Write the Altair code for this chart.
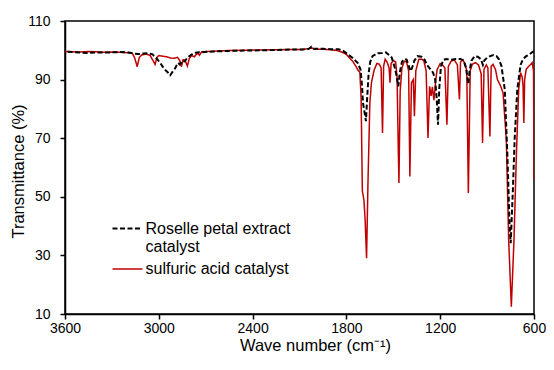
import altair as alt
import pandas as pd

series_names = ["Roselle petal extract catalyst", "sulfuric acid catalyst"]

roselle_wn = [3600, 3550, 3500, 3450, 3400, 3350, 3300, 3250, 3200, 3160, 3130, 3100, 3070, 3040,
              3010, 2990, 2965, 2945, 2927, 2910, 2900, 2885, 2876, 2866, 2850, 2835, 2815, 2795,
              2770, 2740, 2650, 2550, 2450, 2350, 2250, 2150, 2080, 2040, 2024, 2010, 1950, 1900,
              1850, 1820, 1790, 1760, 1728, 1710, 1700, 1694, 1686, 1675, 1668, 1658, 1648, 1633,
              1600, 1570, 1548, 1530, 1510, 1490, 1478, 1468, 1458, 1445, 1432, 1415, 1400, 1390,
              1380, 1365, 1345, 1320, 1300, 1285, 1270, 1258, 1245, 1232, 1222, 1214, 1206, 1195,
              1180, 1160, 1130, 1100, 1070, 1050, 1035, 1027, 1020, 1012, 1000, 980, 960, 940, 927,
              918, 900, 880, 860, 840, 825, 808, 787, 770, 756, 749, 735, 724, 707, 686, 670, 650,
              629, 610, 600]
roselle_t = [99.5, 99.4, 99.2, 99.1, 99.3, 99.2, 99.3, 99.4, 99.3, 98.9, 98.7, 98.9, 99.0, 98.6,
             97.0, 95.6, 93.6, 92.6, 91.5, 92.8, 93.4, 95.0, 95.7, 95.2, 96.4, 96.2, 97.6, 98.4,
             99.2, 99.3, 99.6, 99.8, 99.9, 100.0, 100.1, 100.3, 100.3, 100.5, 101.2, 100.5, 100.5, 100.4,
             100.4, 99.8, 98.6, 97.4, 95.7, 93.5, 88.0, 82.0, 79.5, 75.8, 83.0, 92.0, 96.0, 98.0,
             99.0, 99.1, 99.3, 98.5, 97.5, 94.0, 91.0, 87.7, 92.5, 96.0, 97.0, 96.8, 94.5, 92.9,
             94.0, 96.5, 98.0, 97.8, 96.8, 95.0, 94.0, 93.3, 92.3, 90.0, 83.2, 74.6, 87.0, 94.6,
             96.7, 97.0, 96.8, 97.0, 97.0, 96.5, 94.0, 91.0, 88.5, 93.0, 96.5, 98.0, 97.8, 97.0, 95.0,
             96.5, 97.5, 98.0, 98.4, 98.0, 97.0, 94.6, 86.6, 63.8, 39.9, 34.2, 52.4, 69.5, 86.6, 95.0, 97.0, 98.0,
             98.6, 99.4, 99.7]

sulfuric_wn = [3600, 3550, 3500, 3450, 3400, 3350, 3300, 3250, 3200, 3170, 3155, 3138, 3125, 3110,
               3080, 3055, 3038, 3024, 3012, 3000, 2975, 2950, 2925, 2900, 2880, 2866, 2855, 2845,
               2832, 2817, 2805, 2790, 2772, 2760, 2750, 2740, 2725, 2650, 2550, 2450, 2350, 2250,
               2150, 2080, 2040, 2020, 2000, 1950, 1900, 1860, 1830, 1800, 1780, 1760, 1740, 1725,
               1714, 1706, 1698, 1688, 1680, 1671, 1662, 1650, 1640, 1623, 1605, 1590, 1578, 1569,
               1562, 1552, 1540, 1527, 1521, 1514, 1500, 1485, 1476, 1468, 1464, 1456, 1445, 1430,
               1415, 1402, 1394, 1384, 1372, 1365, 1356, 1337, 1320, 1305, 1290, 1278, 1268, 1258,
               1250, 1240, 1230, 1220, 1200, 1185, 1170, 1157, 1148, 1130, 1110, 1090, 1077, 1070,
               1055, 1040, 1030, 1020, 1008, 995, 975, 955, 938, 929, 920, 905, 895, 882, 874, 862,
               846, 834, 815, 798, 777, 762, 745, 728, 713, 698, 686, 676, 670, 665, 660, 650, 635,
               620, 612, 603, 600]
sulfuric_t = [99.6, 99.5, 99.4, 99.6, 99.5, 99.3, 99.4, 99.3, 99.2, 99.0, 97.5, 94.4, 97.5, 98.4,
              98.7, 98.2, 96.6, 95.2, 97.6, 98.2, 98.0, 97.8, 97.4, 97.3, 97.6, 96.5, 94.4, 96.8,
              96.6, 94.6, 97.2, 98.2, 97.8, 98.6, 99.0, 98.3, 99.5, 99.7, 99.9, 100.0, 100.1, 100.2,
              100.3, 100.3, 100.6, 100.8, 100.4, 100.4, 100.2, 99.9, 99.4, 98.6, 97.4, 96.3, 94.6, 93.2,
              92.5, 84.0, 52.0, 49.0, 42.0, 29.0, 55.0, 82.0, 88.9, 93.2, 95.5, 95.3, 94.0, 71.8,
              94.5, 97.0, 96.0, 94.0, 88.9, 95.5, 96.5, 96.0, 91.0, 66.0, 54.7, 86.0, 94.0, 96.3,
              96.0, 93.0, 56.9, 88.9, 90.0, 77.5, 93.0, 96.9, 97.0, 96.5, 93.0, 70.1, 87.7, 84.4,
              87.5, 83.0, 89.0, 93.4, 95.5, 95.0, 94.0, 74.6, 94.5, 96.3, 96.7, 95.0, 83.2, 96.0,
              96.8, 95.2, 93.0, 51.3, 93.0, 95.2, 95.8, 95.0, 92.0, 68.4, 93.5, 95.0, 94.0, 70.6, 94.5, 95.2,
              93.4, 90.0, 88.0, 85.5, 69.5, 35.3, 12.5, 35.3, 63.8, 86.6, 92.3, 91.0, 88.0, 75.2, 90.0, 93.5, 94.5,
              95.2, 95.8, 93.0, 56.0]

x_ticks = [3600, 3000, 2400, 1800, 1200, 600]
y_ticks = [10, 30, 50, 70, 90, 110]

df_r = pd.DataFrame({"wn": roselle_wn, "T": roselle_t, "series": series_names[0]})
df_s = pd.DataFrame({"wn": sulfuric_wn, "T": sulfuric_t, "series": series_names[1]})

FONT = "Liberation Sans"
BLACK = "#000000"
RED = "#C00000"

common_axis = dict(grid=False, domainColor=BLACK, domainWidth=1.5, ticks=True, tickColor=BLACK,
                   tickWidth=1.5, tickSize=5, labelFont=FONT, labelFontSize=14, labelColor=BLACK,
                   labelFlush=False, labelOverlap=False,
                   titleFont=FONT, titleFontSize=16.5, titleFontWeight="normal", titleColor=BLACK)

x_enc = alt.X("wn:Q",
              scale=alt.Scale(domain=[600, 3600], reverse=True, nice=False, zero=False),
              axis=alt.Axis(values=x_ticks, format="d", title="Wave number (cm⁻¹)",
                            labelPadding=2, titleX=250, titleY=36, titleAlign="center",
                            titleBaseline="alphabetic", **common_axis))
y_enc = alt.Y("T:Q",
              scale=alt.Scale(domain=[10, 110], nice=False, zero=False),
              axis=alt.Axis(values=y_ticks, title="Transmittance (%)", labelPadding=10,
                            titleX=-47, titleY=150, titleAlign="center", titleBaseline="middle",
                            titleAngle=-90, **common_axis))

red_line = alt.Chart(df_s).mark_line(color=RED, strokeWidth=1.5, clip=True).encode(
    x=x_enc, y=y_enc, order="wn:Q")
black_line = alt.Chart(df_r).mark_line(color=BLACK, strokeWidth=2, strokeDash=[5, 2.5], clip=True).encode(
    x="wn:Q", y="T:Q", order="wn:Q")

one = pd.DataFrame({"k": [0]})
leg_black = alt.Chart(one).mark_rule(color=BLACK, strokeWidth=2, strokeDash=[5, 2.5]).encode(
    x=alt.value(47.5), x2=alt.value(77.5), y=alt.value(207.5))
leg_red = alt.Chart(one).mark_rule(color=RED, strokeWidth=1.5).encode(
    x=alt.value(47.5), x2=alt.value(77.5), y=alt.value(248))
leg_t1 = alt.Chart(one).mark_text(font=FONT, fontSize=16, align="left", baseline="middle", color=BLACK).encode(
    x=alt.value(80.5), y=alt.value(207.5), text=alt.value("Roselle petal extract"))
leg_t2 = alt.Chart(one).mark_text(font=FONT, fontSize=16, align="left", baseline="middle", color=BLACK).encode(
    x=alt.value(80.5), y=alt.value(226), text=alt.value("catalyst"))
leg_t3 = alt.Chart(one).mark_text(font=FONT, fontSize=16, align="left", baseline="middle", color=BLACK).encode(
    x=alt.value(80.5), y=alt.value(248), text=alt.value(series_names[1]))

chart = alt.layer(red_line, black_line, leg_black, leg_red, leg_t1, leg_t2, leg_t3).properties(
    width=469, height=293,
    background="white",
    autosize=alt.AutoSizeParams(type="none"),
    padding={"left": 57, "top": 13, "right": 12, "bottom": 40},
).configure_view(
    stroke=BLACK, strokeWidth=1.5
)

chart.save("out.html", embed_options={"renderer": "svg", "actions": False})
